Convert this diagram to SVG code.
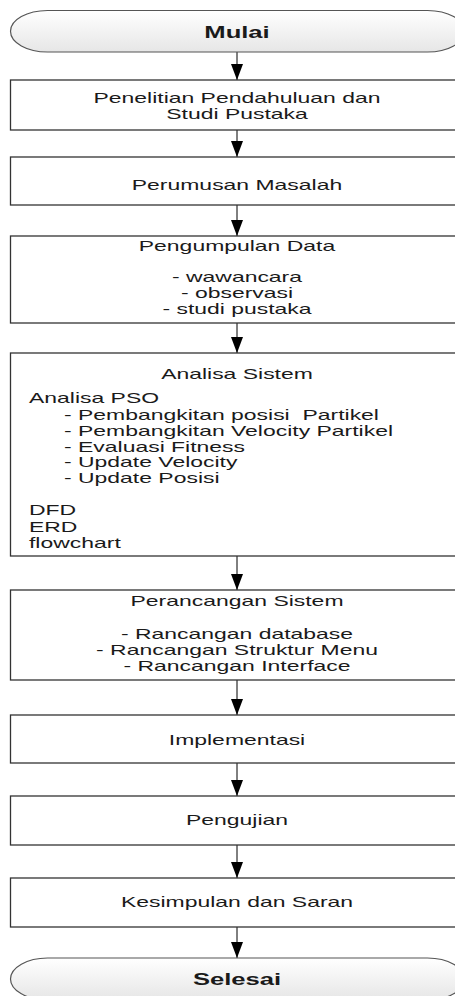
<svg xmlns="http://www.w3.org/2000/svg" width="455" height="996" viewBox="0 0 455 996">
  <style>
    .box { fill: #ffffff; stroke: #333333; stroke-width: 1.3; }
    .term { fill: url(#termFill); stroke: #555555; stroke-width: 1.2; }
    .t { font-family: "Liberation Sans", Arial, sans-serif; font-size: 14px; fill: #1a1a1a; }
    .c { text-anchor: middle; }
    .b { font-weight: bold; font-size: 16px; }
    .conn line { stroke: #000000; stroke-width: 1; marker-end: url(#arrow); }
  </style>
  <defs>
    <linearGradient id="termFill" x1="0" y1="0" x2="0" y2="1">
      <stop offset="0" stop-color="#ffffff"/>
      <stop offset="1" stop-color="#e6e6e6"/>
    </linearGradient>
    <marker id="arrow" viewBox="0 0 16 12" refX="16" refY="6" markerWidth="16" markerHeight="12" markerUnits="userSpaceOnUse" orient="auto">
      <path d="M0,0 L16,6 L0,12 Z" fill="#000000"/>
    </marker>
  </defs>

  <!-- connectors -->
  <g id="connectors" class="conn">
    <line x1="237" y1="52" x2="237" y2="80"/>
    <line x1="237" y1="130" x2="237" y2="157"/>
    <line x1="237" y1="205" x2="237" y2="236"/>
    <line x1="237" y1="323" x2="237" y2="353"/>
    <line x1="237" y1="556" x2="237" y2="590"/>
    <line x1="237" y1="680" x2="237" y2="715"/>
    <line x1="237" y1="763" x2="237" y2="796"/>
    <line x1="237" y1="845" x2="237" y2="878"/>
    <line x1="237" y1="927" x2="237" y2="958"/>
  </g>

  <g id="mulai">
    <rect class="term" x="10.5" y="10.5" width="454" height="41.5" rx="37" ry="20.75"/>
    <text class="t b c" transform="translate(237,38) scale(1.6,1)">Mulai</text>
  </g>

  <g id="penelitian">
    <rect class="box" x="10.5" y="80" width="454" height="50"/>
    <text class="t c" transform="translate(237,103) scale(1.64,1)">Penelitian Pendahuluan dan</text>
    <text class="t c" transform="translate(237,119) scale(1.64,1)">Studi Pustaka</text>
  </g>

  <g id="perumusan">
    <rect class="box" x="10.5" y="157" width="454" height="48"/>
    <text class="t c" transform="translate(237,190) scale(1.64,1)">Perumusan Masalah</text>
  </g>

  <g id="pengumpulan">
    <rect class="box" x="10.5" y="236" width="454" height="87"/>
    <text class="t c" transform="translate(237,251) scale(1.64,1)">Pengumpulan Data</text>
    <text class="t c" transform="translate(237,282) scale(1.64,1)">- wawancara</text>
    <text class="t c" transform="translate(237,298) scale(1.64,1)">- observasi</text>
    <text class="t c" transform="translate(237,314) scale(1.64,1)">- studi pustaka</text>
  </g>

  <g id="analisa">
    <rect class="box" x="10.5" y="353" width="454" height="203"/>
    <text class="t c" transform="translate(237,379) scale(1.64,1)">Analisa Sistem</text>
    <text class="t" transform="translate(29,403) scale(1.64,1)">Analisa PSO</text>
    <text class="t" transform="translate(64,420) scale(1.64,1)">- Pembangkitan posisi&#160; Partikel</text>
    <text class="t" transform="translate(64,436) scale(1.64,1)">- Pembangkitan Velocity Partikel</text>
    <text class="t" transform="translate(64,452) scale(1.64,1)">- Evaluasi Fitness</text>
    <text class="t" transform="translate(64,467) scale(1.64,1)">- Update Velocity</text>
    <text class="t" transform="translate(64,483) scale(1.64,1)">- Update Posisi</text>
    <text class="t" transform="translate(29,515) scale(1.64,1)">DFD</text>
    <text class="t" transform="translate(29,532) scale(1.64,1)">ERD</text>
    <text class="t" transform="translate(29,548) scale(1.64,1)">flowchart</text>
  </g>

  <g id="perancangan">
    <rect class="box" x="10.5" y="590" width="454" height="90"/>
    <text class="t c" transform="translate(237,606) scale(1.64,1)">Perancangan Sistem</text>
    <text class="t c" transform="translate(237,639) scale(1.64,1)">- Rancangan database</text>
    <text class="t c" transform="translate(237,655) scale(1.64,1)">- Rancangan Struktur Menu</text>
    <text class="t c" transform="translate(237,671) scale(1.64,1)">- Rancangan Interface</text>
  </g>

  <g id="implementasi">
    <rect class="box" x="10.5" y="715" width="454" height="48"/>
    <text class="t c" transform="translate(237,745) scale(1.64,1)">Implementasi</text>
  </g>

  <g id="pengujian">
    <rect class="box" x="10.5" y="796" width="454" height="49"/>
    <text class="t c" transform="translate(237,825) scale(1.64,1)">Pengujian</text>
  </g>

  <g id="kesimpulan">
    <rect class="box" x="10.5" y="878" width="454" height="49"/>
    <text class="t c" transform="translate(237,907) scale(1.64,1)">Kesimpulan dan Saran</text>
  </g>

  <g id="selesai">
    <rect class="term" x="10.5" y="958" width="454" height="42" rx="37" ry="21"/>
    <text class="t b c" transform="translate(237,985) scale(1.6,1)">Selesai</text>
  </g>
</svg>
